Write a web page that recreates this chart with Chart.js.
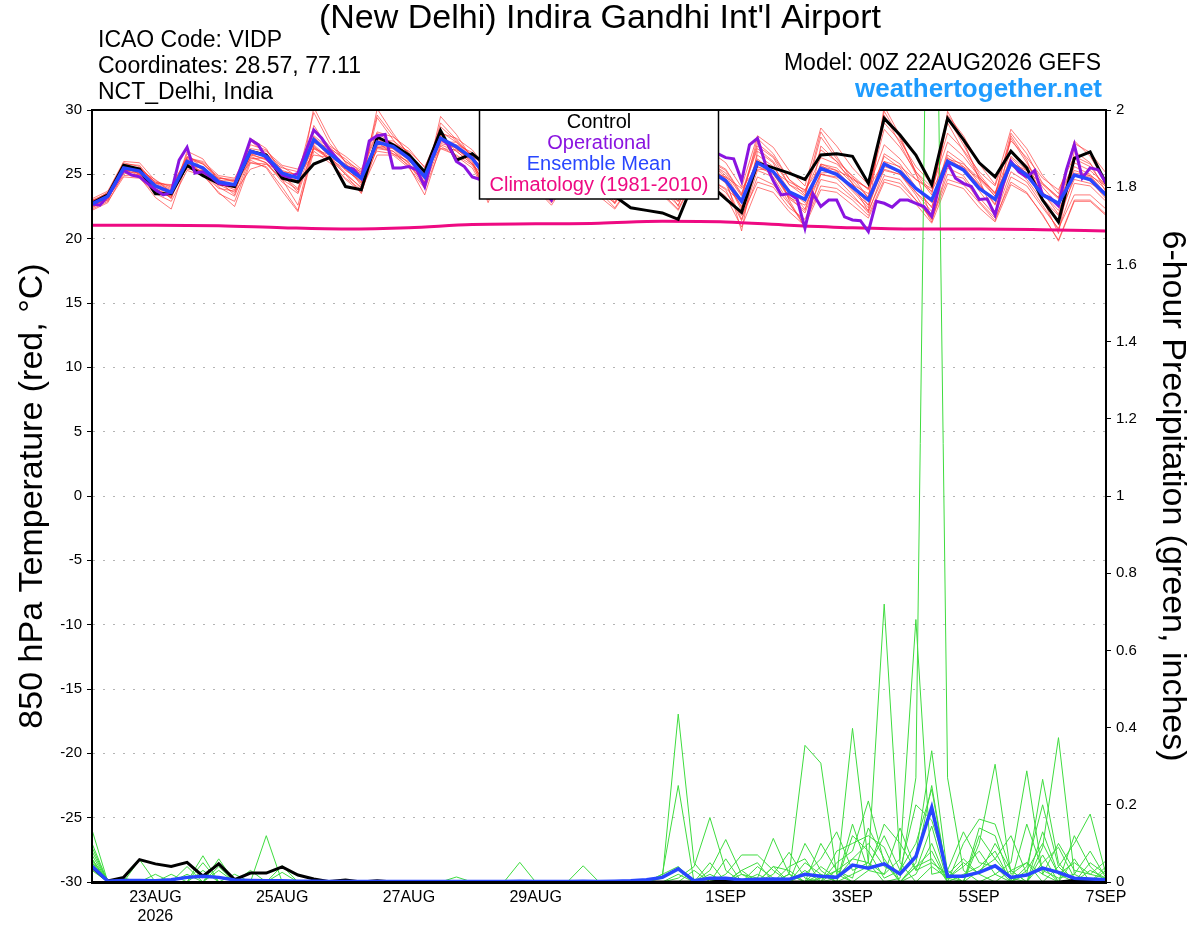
<!DOCTYPE html>
<html>
<head>
<meta charset="utf-8">
<title>VIDP GEFS meteogram</title>
<script src="https://cdn.jsdelivr.net/npm/chart.js@4.4.1/dist/chart.umd.min.js"></script>
<style>
  body { margin: 0; background: #fff; }
  canvas { display: block; }
</style>
</head>
<body>
<canvas id="meteogram" width="1200" height="927"></canvas>
<script>
const FONT = '"Liberation Sans", Arial, sans-serif'

// forecast hour of each point (00Z 22AUG2026 = 0)
const hours6 = [0,6,12,18,24,30,36,42,48,54,60,66,72,78,84,90,96,102,108,114,120,126,132,138,144,150,156,162,168,174,180,186,192,198,204,210,216,222,228,234,240,246,252,258,264,270,276,282,288,294,300,306,312,318,324,330,336,342,348,354,360,366,372,378,384]
const hours3 = [0,3,6,9,12,15,18,21,24,27,30,33,36,39,42,45,48,51,54,57,60,63,66,69,72,75,78,81,84,87,90,93,96,99,102,105,108,111,114,117,120,123,126,129,132,135,138,141,144,147,150,153,156,159,162,165,168,171,174,177,180,183,186,189,192,195,198,201,204,207,210,213,216,219,222,225,228,231,234,237,240,243,246,249,252,255,258,261,264,267,270,273,276,279,282,285,288,291,294,297,300,303,306,309,312,315,318,321,324,327,330,333,336,339,342,345,348,351,354,357,360,363,366,369,372,375,378,381,384]
const hoursDaily = [0,24,48,72,96,120,144,168,192,216,240,264,288,312,336,360,384]

const tickHours = [24, 72, 120, 168, 240, 288, 336, 384]
const tickLabels = [['23AUG', '2026'], '25AUG', '27AUG', '29AUG', '1SEP', '3SEP', '5SEP', '7SEP']

// 850 hPa temperature (C)
const controlTemp = [22.75,23.4,25.7,25.4,23.5,23.5,25.7,24.9,24.3,24.05,26.8,26.5,24.7,24.4,25.8,26.3,24.05,
  23.8,27.9,27.3,26.5,25.2,28.4,26.1,26.6,25.6,25.9,25.0,24.6,24.2,24.8,24.4,23.9,
  23.3,22.4,22.2,22.0,21.5,24.5,24.2,23.1,22.05,25.9,25.5,25.1,24.6,26.5,26.6,26.4,
  24.3,29.35,28.05,26.5,24.2,29.35,27.7,25.9,24.8,26.8,25.5,23.0,21.3,26.25,26.75,24.3]

const meanTemp = [22.7,23.3,25.5,25.25,24.1,23.6,26.0,25.5,24.4,24.2,26.8,26.4,25.1,24.7,27.7,26.6,25.6,
  24.7,27.5,27.15,26.25,24.8,27.8,27.15,26.25,24.6,26.0,25.3,24.6,23.9,25.3,24.9,24.4,
  23.8,25.0,24.5,24.2,23.5,25.6,25.3,24.5,22.9,25.9,25.2,23.65,23.05,25.45,25.0,24.0,
  23.0,25.8,25.2,23.9,23.0,26.0,25.35,23.9,23.05,25.85,24.95,23.4,22.75,24.95,24.6,23.4]

// operational run, 3-hourly
const operTemp = [22.7,22.6,23.3,24.3,25.3,24.95,24.8,24.3,23.8,23.4,23.6,26.1,27.1,25.1,25.2,24.8,24.3,24.2,24.2,25.9,
  27.7,27.3,26.25,25.6,24.95,24.75,25.1,26.8,28.45,27.8,26.9,26.2,25.55,25.4,24.7,27.6,28.0,28.1,25.5,25.5,
  25.6,25.35,24.05,26.4,27.8,27.3,26.0,25.6,24.8,24.6,24.2,25.0,26.0,25.8,25.2,24.8,24.3,23.8,23.0,24.5,
  25.5,25.2,24.8,24.5,24.2,23.8,23.6,24.8,25.5,25.0,24.6,24.3,24.0,23.8,23.5,25.5,26.5,26.8,26.7,26.6,
  26.3,26.2,24.5,27.3,27.8,25.8,24.5,23.4,23.5,23.1,20.8,23.5,22.5,23.0,23.0,21.7,21.45,21.4,20.55,22.9,
  22.75,22.45,23.0,23.0,22.75,22.5,21.75,24.2,25.9,24.7,24.3,24.05,23.05,23.1,21.85,24.2,26.0,25.2,24.8,25.3,
  23.4,23.15,22.55,25.35,27.3,24.7,25.5,25.35,24.3]

const climoTemp = [21.05,21.05,21.0,20.85,20.75,20.85,21.1,21.15,21.2,21.35,21.3,21.05,20.85,20.75,20.75,20.7,20.6]

// ensemble members
const memberA = [22.9,23.6,25.9,25.6,24.3,23.8,26.4,25.8,24.6,24.0,27.3,26.9,25.3,24.9,29.8,27.4,26.0,
  25.0,29.6,28.0,26.6,25.2,28.7,27.6,26.4,24.8,26.6,25.9,25.0,24.2,26.2,25.5,24.8,
  24.0,25.6,25.0,24.6,23.6,26.3,25.9,25.1,23.3,27.2,26.3,24.2,23.3,27.9,26.2,24.8,
  23.2,29.6,27.4,25.0,23.4,29.4,27.3,25.0,23.5,27.8,25.9,24.0,22.6,26.2,25.6,24.0]
const memberB = [22.3,22.9,24.8,24.7,23.5,22.9,25.3,24.9,23.6,22.5,25.9,25.6,24.0,22.2,26.8,25.9,24.7,
  23.8,26.5,26.5,25.5,23.9,27.0,26.5,25.7,23.5,25.2,24.6,23.9,22.6,24.5,24.2,23.7,
  22.4,24.2,23.9,23.5,22.3,24.8,24.6,23.8,21.4,24.8,24.2,22.7,21.2,24.1,23.9,23.0,
  21.8,24.6,24.3,23.0,21.5,24.6,24.2,22.8,21.4,24.8,24.1,22.4,20.8,23.4,23.4,22.3]
const memberC = [22.6,23.1,25.3,25.3,24.6,23.6,26.3,25.9,24.7,24.6,26.5,26.2,25.5,25.2,28.0,27.0,26.2,
  25.1,28.2,27.4,26.8,25.6,28.3,27.5,26.5,24.3,26.3,25.5,24.8,23.4,25.8,25.3,24.6,
  23.0,25.5,25.0,24.4,23.1,26.0,25.6,24.6,22.4,26.5,25.6,23.8,22.3,25.8,25.5,24.3,
  22.6,26.6,25.8,24.0,22.4,26.8,25.9,24.3,22.6,26.4,25.3,23.6,21.9,25.6,25.0,23.8]
const memberD = [23.0,23.5,25.7,25.0,23.7,23.4,25.6,25.2,24.2,23.6,25.4,25.8,24.6,22.6,27.3,26.2,25.4,
  24.3,27.6,27.6,26.7,25.1,27.9,27.0,26.0,22.8,25.8,25.1,24.5,23.9,25.0,24.6,24.5,
  23.6,24.8,24.3,24.6,23.8,25.1,24.6,23.9,22.8,25.4,25.3,23.2,22.6,25.0,24.8,24.2,
  23.5,25.3,25.0,23.6,22.5,25.9,25.6,24.6,23.3,26.3,25.0,23.1,21.8,24.6,24.3,23.6]
const memberE = [22.5,23.2,25.4,25.1,24.0,23.5,26.1,25.3,24.1,24.3,26.9,26.3,24.8,24.5,27.5,26.8,25.3,
  24.5,27.1,27.0,26.1,24.6,27.6,27.3,26.7,25.0,26.0,25.6,25.3,24.1,25.9,25.8,25.2,
  24.3,25.9,25.3,24.9,23.9,26.6,26.1,25.4,23.5,27.4,26.4,24.6,23.7,26.9,26.0,24.9,
  23.8,28.5,27.1,25.2,24.0,28.2,26.9,25.2,24.1,27.6,26.3,24.7,23.8,26.4,25.8,24.6]
const memberF = [22.8,23.6,25.6,25.5,24.4,24.1,26.2,25.8,24.8,24.4,26.5,26.6,25.6,24.8,27.4,27.1,26.0,
  25.3,27.3,27.3,26.3,25.3,27.5,27.5,26.3,24.9,25.6,24.9,24.3,23.2,24.8,24.4,23.9,
  23.1,24.5,24.1,23.7,22.6,25.0,24.5,23.6,21.8,24.4,24.0,22.4,21.5,24.6,24.3,23.2,
  22.2,24.9,24.6,23.0,21.6,25.0,24.7,22.9,21.6,24.4,23.6,21.8,19.9,23.0,23.0,21.9]
const memberG = [22.4,23.0,25.6,25.0,23.9,23.3,26.6,25.4,24.2,24.0,27.6,26.6,24.9,24.3,28.8,26.9,25.4,
  24.4,29.4,27.7,26.2,24.4,29.0,27.7,26.4,25.6,27.0,26.1,25.6,24.4,26.8,25.9,25.1,
  24.6,26.6,25.6,25.1,24.3,27.3,26.0,24.9,23.0,27.8,26.6,24.6,23.4,28.3,26.4,24.5,
  23.2,29.9,27.8,25.2,23.6,29.0,26.8,24.8,23.3,28.2,26.6,24.3,23.2,27.6,26.4,24.4]
const memberH = [22.7,23.4,25.2,25.4,24.2,23.7,25.5,25.6,24.5,24.5,26.2,26.3,25.1,24.8,27.0,26.5,25.8,
  25.0,27.2,27.1,26.4,24.9,27.4,27.1,26.2,24.2,25.1,24.5,23.9,22.8,24.2,23.9,23.3,
  22.3,24.1,23.6,23.9,22.9,25.3,25.2,24.6,22.2,25.6,25.0,23.3,22.0,25.1,25.2,23.8,
  22.6,25.6,25.2,23.9,22.8,26.1,25.5,24.2,22.7,25.9,25.1,23.5,22.2,24.9,24.8,23.4]
const memberI = [22.2,22.8,25.1,24.8,23.2,22.3,25.9,25.1,23.5,22.9,26.1,25.5,23.7,22.1,27.2,26.1,24.6,
  23.6,27.1,26.8,25.6,23.4,27.2,26.4,25.5,23.3,25.4,24.7,24.0,22.9,25.1,24.7,24.1,
  22.7,24.9,24.5,24.0,22.9,25.7,25.3,24.3,21.5,25.3,24.8,22.8,20.9,25.0,24.7,23.4,
  22.0,25.4,25.0,23.4,21.3,25.5,24.9,23.2,21.8,25.2,24.4,22.6,20.7,24.3,24.1,22.9]
const memberJ = [23.1,23.7,26.0,25.9,24.5,24.0,26.3,26.0,24.9,24.7,27.0,26.8,25.7,25.4,28.4,27.2,26.4,
  25.4,28.3,27.9,27.0,25.5,28.2,27.8,26.9,25.4,26.5,25.8,25.1,24.3,26.0,25.6,25.0,
  24.1,25.7,25.4,25.0,24.0,26.4,26.0,25.3,23.4,27.0,26.0,24.2,23.6,26.3,25.8,24.6,
  23.9,27.3,26.2,24.6,23.9,27.5,26.4,24.8,23.5,26.8,25.7,24.3,23.2,25.9,25.3,24.2]
const memberK = [22.6,23.2,25.5,25.2,24.1,23.5,25.8,25.5,24.3,23.8,26.6,26.1,24.9,23.9,27.6,26.4,25.1,
  23.9,27.5,26.6,25.7,24.4,28.0,26.8,25.8,24.5,26.4,25.7,24.9,23.7,25.6,25.1,24.3,
  23.4,25.3,24.9,24.3,23.2,25.8,25.4,24.4,22.5,26.1,25.1,23.1,22.2,25.7,25.0,23.7,
  22.4,26.0,25.1,23.6,22.1,26.3,25.4,23.7,22.1,25.7,24.6,22.9,21.3,24.9,24.5,23.1]
const memberL = [22.9,23.3,25.3,25.5,24.4,23.9,26.0,25.4,24.6,24.1,26.8,26.4,25.0,24.5,27.9,26.8,25.5,
  24.9,27.4,27.2,26.4,25.0,27.7,27.0,26.1,24.7,26.1,25.3,24.4,23.5,25.4,25.0,24.4,
  23.6,25.2,24.8,24.3,23.3,25.9,25.5,24.7,23.0,26.2,25.2,23.7,22.8,25.8,25.3,24.0,
  23.1,26.4,25.5,23.9,23.0,26.5,25.6,24.1,23.0,26.0,25.1,23.6,22.6,25.3,24.9,23.5]
const memberM = [22.5,23.5,25.8,25.7,24.2,23.1,26.8,26.2,24.5,23.4,27.8,27.0,25.0,23.6,30.2,27.8,25.9,
  24.1,30.1,28.2,26.5,24.1,29.5,28.1,26.2,23.0,26.9,26.0,24.8,23.1,26.5,25.6,24.5,
  22.8,26.0,25.3,24.6,22.5,26.8,26.0,24.7,20.6,26.8,25.9,23.0,20.9,27.2,26.0,24.3,
  22.1,30.3,28.0,25.1,21.5,29.9,27.6,24.6,21.7,28.0,26.1,23.1,20.4,26.8,25.9,23.6]
const memberN = [23.0,23.2,24.9,25.0,24.3,24.2,25.4,25.3,24.7,24.5,25.9,25.8,25.2,25.0,26.5,26.3,25.7,
  25.2,26.8,26.6,26.0,25.3,27.0,26.9,26.2,25.3,25.9,25.5,25.1,24.6,25.3,25.1,24.7,
  24.2,24.9,24.7,24.4,23.8,25.4,25.2,24.8,23.9,25.6,25.2,24.4,23.8,25.6,25.3,24.7,
  23.9,26.0,25.6,24.6,23.7,26.2,25.8,24.7,23.6,25.9,25.3,24.2,23.1,25.1,24.9,24.1]
const memberO = [22.6,23.0,25.4,24.9,23.8,23.2,26.2,25.0,23.9,23.7,26.4,25.9,24.6,23.8,27.0,26.2,25.0,
  23.5,27.8,27.0,25.8,24.0,28.1,27.0,25.9,23.8,26.8,26.2,25.5,24.8,26.9,26.3,25.6,
  24.9,26.9,26.3,25.8,24.6,27.5,26.8,25.9,24.0,28.0,27.1,25.3,24.1,28.6,27.2,25.5,
  24.2,29.0,27.6,25.6,24.3,29.6,28.0,25.8,24.2,28.5,27.0,24.9,23.5,27.4,26.7,25.1]
const memberP = [22.4,23.3,25.2,25.1,23.9,23.2,25.7,25.2,24.0,23.3,26.3,25.9,24.4,23.5,27.1,26.3,25.0,
  24.0,27.0,26.8,25.9,24.2,27.3,26.8,25.8,24.0,25.5,24.9,24.1,23.0,24.7,24.3,23.6,
  22.8,24.3,23.9,23.4,22.2,24.6,24.2,23.3,20.9,24.0,23.6,22.1,21.0,23.8,23.6,22.6,
  21.6,24.4,24.0,22.7,21.2,24.3,23.9,22.4,21.3,24.2,23.5,21.9,19.8,22.9,22.9,21.8]
const tempMembers = [memberA, memberB, memberC, memberD, memberE, memberF, memberG, memberH,
  memberI, memberJ, memberK, memberL, memberM, memberN, memberO, memberP]

// 6-hour precipitation (inches)
const controlPrecip = [0.038,0.003,0.012,0.058,0.047,0.04,0.051,0.015,0.047,0.006,0.023,0.023,0.039,0.018,0.008,0.001,0.005,
  0,0.003,0,0,0,0,0,0,0,0,0,0,0,0,0,0,
  0,0,0,0,0,0,0,0.004,0,0,0,0,0,0,0,0,
  0,0,0,0,0,0,0,0,0,0,0,0,0,0.004,0.006,0.004]
const meanPrecip = [0.041,0.002,0.004,0.004,0.003,0.006,0.012,0.015,0.012,0.005,0.004,0.003,0.003,0.002,0.002,0.001,0.001,
  0.001,0.001,0.001,0.001,0.001,0.001,0.001,0.001,0.001,0.001,0.002,0.001,0.001,0.001,0.002,0.001,
  0.002,0.003,0.006,0.012,0.034,0.003,0.01,0.01,0.005,0.007,0.008,0.007,0.02,0.015,0.012,0.044,
  0.036,0.047,0.021,0.066,0.193,0.015,0.015,0.025,0.042,0.012,0.018,0.036,0.025,0.01,0.008,0.006]

const precipP1 = [0.135,0,0,0.058,0,0,0,0,0,0,0,0.12,0,0,0,0,
  0,0,0,0,0,0,0,0,0,0,0,0,0,0,0,0,
  0,0,0,0,0.01,0.435,0.05,0,0,0,0,0,0.02,0.354,0.308,0.02,
  0,0,0,0,0.02,0.1,0,0,0,0,0,0.02,0.266,0.05,0,0,0]
const precipP2 = [0.08,0,0,0,0,0,0,0.068,0,0,0,0,0.042,0,0,0,
  0,0,0,0,0,0,0,0,0,0,0,0,0,0,0,0,
  0,0,0,0,0.02,0.25,0,0.02,0,0,0,0.01,0,0,0,0.01,
  0.398,0.05,0,0.01,0.27,3.4,0.27,0.03,0,0.02,0.05,0.288,0.02,0,0,0,0]
const precipP3 = [0.06,0,0,0,0,0,0,0,0.06,0,0,0,0,0,0,0,
  0,0,0,0,0,0,0,0,0,0,0,0.051,0,0,0,0,
  0,0,0,0,0,0.01,0.04,0.167,0.03,0,0.02,0,0,0.03,0,0.05,
  0.08,0.21,0.05,0,0.04,0.06,0,0.1,0.163,0.15,0.03,0,0.09,0.374,0.02,0,0.03]
const precipP4 = [0.05,0,0,0,0,0,0.04,0,0,0,0,0,0,0,0,0,
  0,0,0,0,0,0,0,0,0,0,0,0,0,0,0,0.042,
  0,0,0,0,0,0,0,0.03,0.11,0.02,0.01,0.113,0.02,0,0.04,0.01,
  0.06,0.05,0.72,0.05,0,0.04,0.01,0,0.1,0.305,0.02,0.05,0,0.04,0.1,0.176,0.02]
const precipP5 = [0.07,0,0.01,0,0,0,0,0,0.03,0,0,0,0,0,0,0,
  0,0,0,0,0,0,0,0,0,0,0,0,0,0,0,0,
  0,0,0,0,0,0,0,0,0.02,0.07,0.07,0.03,0,0.05,0.02,0,
  0.15,0.03,0.02,0.06,0.68,0.02,0.03,0.13,0.05,0.04,0,0.03,0.1,0.02,0.05,0.02,0.055]
const precipP6 = [0.04,0,0,0,0,0,0,0.05,0,0,0,0,0,0,0,0,
  0,0,0,0,0,0,0,0.013,0,0,0,0,0,0,0,0,
  0,0,0,0,0.02,0.04,0,0,0,0.03,0,0.02,0.077,0.01,0,0.03,
  0.06,0.1,0.04,0.02,0.07,0.34,0.02,0,0.03,0.06,0.12,0.02,0.04,0,0.06,0,0]
const precipP7 = [0.055,0,0,0,0,0.02,0,0,0,0,0.03,0,0,0,0,0,
  0,0,0,0,0,0,0,0,0,0,0,0,0,0,0,0,
  0,0,0,0,0,0,0.03,0,0.01,0,0.04,0.01,0,0.02,0.06,0.13,
  0.03,0.05,0.02,0.14,0.03,0.145,0,0.02,0.04,0.08,0,0.04,0.2,0.04,0,0.03,0.01]
const precipP8 = [0.06,0,0,0,0,0,0,0,0,0.02,0,0,0.025,0,0,0,
  0,0,0,0,0,0,0,0,0,0,0,0,0,0,0,0,
  0,0,0,0,0,0,0,0.05,0,0.02,0,0.04,0.03,0,0.02,0,
  0.12,0.08,0.01,0.03,0.1,0.24,0.01,0.04,0.08,0.02,0,0.15,0.03,0.01,0.02,0.08,0.01]
const precipP9 = [0.09,0,0,0,0.02,0,0,0.03,0,0,0,0,0,0,0,0,
  0,0,0,0,0,0,0,0,0,0,0,0,0,0,0,0,
  0,0,0,0,0,0,0,0,0.01,0,0,0.04,0,0.1,0.03,0,
  0.02,0.04,0.12,0.03,0.2,0.16,0.03,0,0.12,0.06,0.01,0,0.05,0.09,0.01,0,0.04]
const precipP10 = [0.05,0,0,0,0,0,0,0,0.04,0,0,0,0,0,0,0,
  0,0,0,0,0,0,0,0,0,0,0,0,0,0,0,0,
  0,0,0,0,0,0,0,0,0.06,0,0.01,0,0.02,0,0.01,0.03,
  0.01,0.14,0.06,0,0.05,0.25,0.01,0.05,0.02,0.1,0.03,0,0.13,0.02,0,0.05,0.02]
const precipP11 = [0.03,0,0,0,0,0,0.02,0,0,0,0,0,0,0,0,0,
  0,0,0,0,0,0,0,0,0,0,0,0,0,0,0,0,
  0,0,0,0,0,0,0,0,0,0,0,0,0.04,0.06,0,0.08,
  0.1,0.12,0.09,0,0.04,0.08,0,0,0.14,0.12,0,0,0.07,0,0.12,0.04,0]
const precipP12 = [0.1,0,0,0,0,0,0,0,0,0,0,0,0,0,0,0,
  0,0,0,0,0,0,0,0,0,0,0,0,0,0,0,0,
  0,0,0,0,0,0.02,0,0,0,0.03,0.05,0,0,0,0.1,0.03,
  0,0.03,0.15,0.1,0.03,0.05,0.02,0.06,0.02,0,0.03,0.05,0.02,0.1,0.03,0.02,0.01]
const precipMembers = [precipP1, precipP2, precipP3, precipP4, precipP5, precipP6,
  precipP7, precipP8, precipP9, precipP10, precipP11, precipP12]

const legendLabels = ['Control', 'Operational', 'Ensemble Mean', 'Climatology (1981-2010)']
const legendColors = ['#000000', '#8a14e0', '#2846ff', '#ee0a82']

const toPoints = (hrs, vals) => vals.map((v, i) => ({ x: hrs[i], y: v }))

const lineStyle = (color, width, axis, order) => ({
    borderColor: color,
    backgroundColor: color,
    borderWidth: width,
    pointRadius: 0,
    fill: false,
    yAxisID: axis,
    order: order,
})

var datasets = []

tempMembers.forEach((m) => {
    datasets.push({ data: toPoints(hours6, m), ...lineStyle('rgba(255,50,50,0.65)', 1, 'y', 6) })
})
precipMembers.forEach((m) => {
    datasets.push({ data: toPoints(hours6, m), ...lineStyle('#3fdc3f', 1, 'y2', 5) })
})
datasets.push({ data: toPoints(hoursDaily, climoTemp), ...lineStyle(legendColors[3], 3, 'y', 4), cubicInterpolationMode: 'monotone' })
datasets.push({ data: toPoints(hours6, controlPrecip), ...lineStyle(legendColors[0], 3, 'y2', 3) })
datasets.push({ data: toPoints(hours6, controlTemp), ...lineStyle(legendColors[0], 3, 'y', 3) })
datasets.push({ data: toPoints(hours3, operTemp), ...lineStyle(legendColors[1], 3, 'y', 2) })
datasets.push({ data: toPoints(hours6, meanPrecip), ...lineStyle(legendColors[2], 3.5, 'y2', 1) })
datasets.push({ data: toPoints(hours6, meanTemp), ...lineStyle(legendColors[2], 3.5, 'y', 1) })

// header texts above the plot
const headerText = {
    id: 'headerText',
    afterDraw(chart) {
        const c = chart.ctx
        c.save()
        c.textBaseline = 'middle'
        c.fillStyle = '#000'
        c.font = '34px ' + FONT
        c.textAlign = 'center'
        c.fillText("(New Delhi) Indira Gandhi Int'l Airport", 600, 19)
        c.font = '23px ' + FONT
        c.textAlign = 'left'
        c.fillText('ICAO Code: VIDP', 98, 41)
        c.fillText('Coordinates: 28.57, 77.11', 98, 67)
        c.fillText('NCT_Delhi, India', 98, 93)
        c.textAlign = 'right'
        c.fillText('Model: 00Z 22AUG2026 GEFS', 1101, 64)
        c.font = 'bold 26px ' + FONT
        c.fillStyle = '#1f9cff'
        c.fillText('weathertogether.net', 1102, 90)
        c.restore()
    }
}

// legend box sits on top of the lines, centred at the top of the plot
const legendBox = {
    id: 'legendBox',
    afterDatasetsDraw(chart) {
        const c = chart.ctx
        const area = chart.chartArea
        const midX = (area.left + area.right) / 2
        const w = 239, h = 89
        c.save()
        c.fillStyle = '#fff'
        c.fillRect(midX - w / 2, area.top, w, h)
        c.strokeStyle = '#000'
        c.lineWidth = 1.5
        c.strokeRect(midX - w / 2, area.top, w, h)
        c.font = '20px ' + FONT
        c.textAlign = 'center'
        c.textBaseline = 'middle'
        legendLabels.forEach((label, i) => {
            c.fillStyle = legendColors[i]
            c.fillText(label, midX, area.top + 12 + i * 21.2)
        })
        c.restore()
    }
}

new Chart(document.getElementById('meteogram'), {
    type: 'line',
    data: { datasets: datasets },
    plugins: [headerText, legendBox],
    options: {
        responsive: false,
        animation: false,
        devicePixelRatio: 1,
        layout: { padding: { top: 110, left: 0, right: 0, bottom: 0 } },
        plugins: {
            legend: { display: false },
            tooltip: { enabled: false },
        },
        scales: {
            x: {
                type: 'linear',
                min: 0,
                max: 384,
                afterBuildTicks: (scale) => { scale.ticks = tickHours.map(v => ({ value: v })) },
                afterFit: (scale) => { scale.height = 45 },
                ticks: {
                    autoSkip: false,
                    maxRotation: 0,
                    padding: 6,
                    color: '#000',
                    font: { family: FONT, size: 16 },
                    callback: (value, index) => tickLabels[index],
                },
                grid: { display: false, drawTicks: false },
                border: { display: true, color: '#000', width: 3, z: 1 },
            },
            x2: {
                type: 'linear',
                position: 'top',
                min: 0,
                max: 384,
                afterFit: (scale) => { scale.height = 0 },
                ticks: { display: false },
                grid: { display: false, drawTicks: false },
                border: { display: true, color: '#000', width: 2, z: 1 },
            },
            y: {
                position: 'left',
                min: -30,
                max: 30,
                afterFit: (scale) => { scale.width = 92 },
                ticks: { stepSize: 5, padding: 5, color: '#000', font: { family: FONT, size: 15 } },
                grid: {
                    color: '#b4b4b4',
                    lineWidth: 1,
                    tickLength: 5,
                    tickColor: '#000',
                    tickWidth: 1,
                    tickBorderDash: [],
                },
                border: { display: true, color: '#000', width: 2, dash: [2, 8], z: 1 },
                title: {
                    display: true,
                    text: '850 hPa Temperature (red, \u00B0C)',
                    color: '#000',
                    font: { family: FONT, size: 34 },
                    padding: { top: 12, bottom: 0 },
                },
            },
            y2: {
                position: 'right',
                min: 0,
                max: 2,
                afterFit: (scale) => { scale.width = 94 },
                ticks: {
                    stepSize: 0.2,
                    padding: 5,
                    color: '#000',
                    font: { family: FONT, size: 15 },
                    callback: (value) => String(Math.round(value * 10) / 10),
                },
                grid: {
                    drawOnChartArea: false,
                    tickLength: 5,
                    tickColor: '#000',
                    tickWidth: 1,
                },
                border: { display: true, color: '#000', width: 2, z: 1 },
                title: {
                    display: true,
                    text: '6-hour Precipitation (green, inches)',
                    color: '#000',
                    font: { family: FONT, size: 34 },
                    padding: { top: 7, bottom: 0 },
                },
            },
        },
    },
})
</script>
</body>
</html>
